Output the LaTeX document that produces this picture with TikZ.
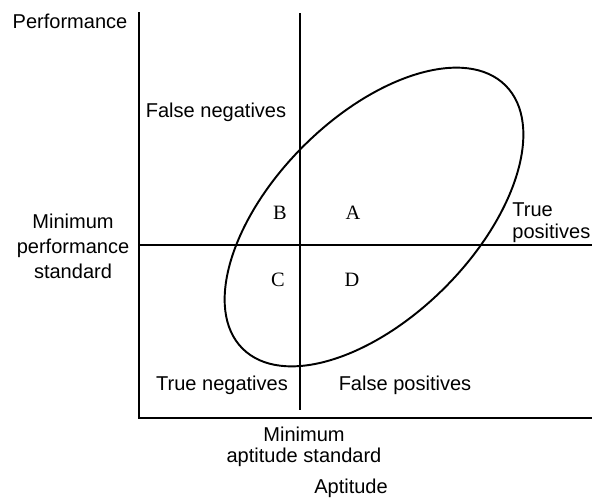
\documentclass[tikz,border=0pt]{standalone}
\usepackage{fontspec}
\setmainfont{Liberation Sans}
\newfontfamily\regionfont{Liberation Serif}
\usetikzlibrary{positioning}

\begin{document}
\begin{tikzpicture}[x=1cm,y=1cm]
\tikzset{
  axisline/.style={draw=black,line width=1.6pt,line cap=rect},
  stdline/.style={draw=black,line width=0.9pt},
  cutline/.style={draw=black,line width=0.6pt},
  spreadline/.style={draw=black,line width=1.1pt},
  axislabel/.style={font=\fontsize{11.4}{14.2}\selectfont,inner sep=0pt,align=center},
  regionlabel/.style={font=\regionfont\fontsize{11.6}{14}\selectfont,inner sep=0pt}
}
\useasboundingbox (0,0) rectangle (11.84,10.06);
\coordinate (c_top) at (2.78,9.80);
\coordinate (c_origin) at (2.78,1.70);
\coordinate (c_right) at (11.84,1.70);
\coordinate (c_perfL) at (2.78,5.16);
\coordinate (c_perfR) at (11.84,5.16);
\coordinate (c_aptT) at (6.00,9.80);
\coordinate (c_aptB) at (6.00,1.86);
\node[axislabel] (n_perf) at (1.40,9.64) {Performance};
\node[axislabel] (n_minperf) at (1.46,5.14) {Minimum\\performance\\standard};
\node[axislabel] (n_fneg) at (4.32,7.82) {False negatives};
\node[axislabel,anchor=west,align=left,font=\fontsize{11.4}{12.4}\selectfont] (n_tpos) at (10.24,5.60) {True\\positives};
\node[axislabel] (n_tneg) at (4.44,2.36) {True negatives};
\node[axislabel] (n_fpos) at (8.10,2.36) {False positives};
\node[axislabel,font=\fontsize{11.4}{12.2}\selectfont] (n_minapt) at (6.08,1.12) {Minimum\\aptitude standard};
\node[axislabel] (n_apt) at (7.02,0.30) {Aptitude};
\node[regionlabel] (n_A) at (7.06,5.80) {A};
\node[regionlabel] (n_B) at (5.60,5.80) {B};
\node[regionlabel] (n_C) at (5.56,4.46) {C};
\node[regionlabel] (n_D) at (7.04,4.46) {D};
% cutoffs and the spread of scores
\draw[stdline] (c_perfL) -- (c_perfR);
\draw[cutline] (c_aptT) -- (c_aptB);
\draw[spreadline,rotate around={45:(7.48,5.72)}] (7.48,5.72) ellipse (3.72cm and 2.00cm);
% axes
\draw[axisline] (c_top) -- (c_origin) -- (c_right);
\end{tikzpicture}
\end{document}
